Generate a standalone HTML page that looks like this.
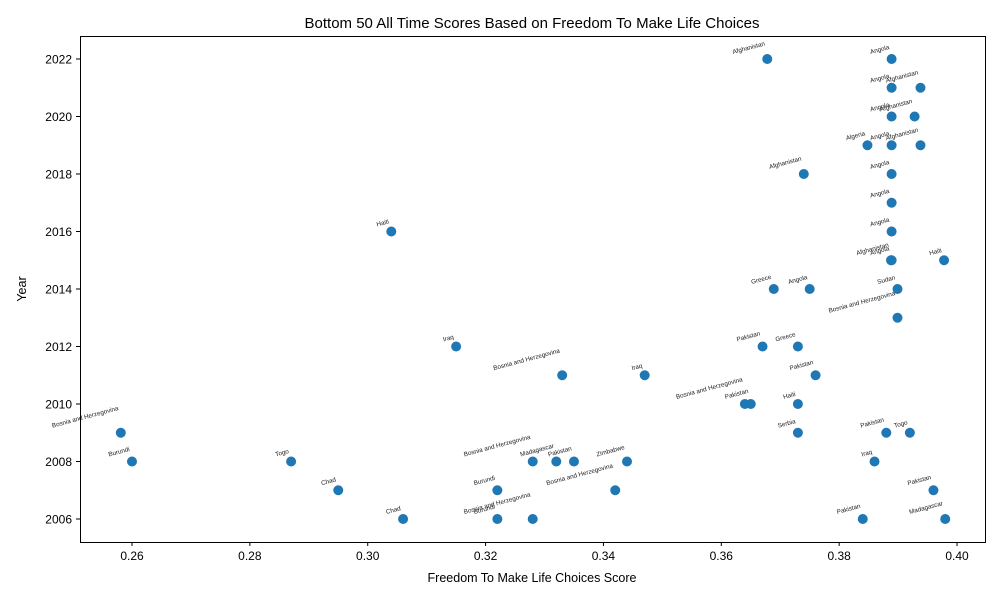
<!DOCTYPE html>
<html><head><meta charset="utf-8"><style>
body{margin:0;background:#fff;font-family:"Liberation Sans","DejaVu Sans",sans-serif}
</style></head><body>
<svg id="chart" width="1000" height="600" xmlns="http://www.w3.org/2000/svg">
<rect width="1000" height="600" fill="#fff"/>
<text x="532" y="28" font-size="15" text-anchor="middle">Bottom 50 All Time Scores Based on Freedom To Make Life Choices</text>
<g id="plot"></g>
<rect x="80.5" y="36.5" width="905" height="506" fill="none" stroke="#000" stroke-width="1"/>
<text x="532" y="582" font-size="12.5" text-anchor="middle">Freedom To Make Life Choices Score</text>
<text x="26" y="289" font-size="12.5" text-anchor="middle" transform="rotate(-90 26 289)">Year</text>
</svg>
<script>
const countries=["Afghanistan","Angola","Angola","Afghanistan","Angola","Afghanistan","Algeria","Angola","Afghanistan","Afghanistan","Angola","Angola","Haiti","Angola","Angola","Afghanistan","Haiti","Greece","Angola","Sudan","Bosnia and Herzegovina","Iraq","Pakistan","Greece","Bosnia and Herzegovina","Iraq","Pakistan","Bosnia and Herzegovina","Pakistan","Haiti","Bosnia and Herzegovina","Serbia","Pakistan","Togo","Burundi","Togo","Bosnia and Herzegovina","Madagascar","Pakistan","Zimbabwe","Iraq","Chad","Burundi","Bosnia and Herzegovina","Pakistan","Chad","Burundi","Bosnia and Herzegovina","Pakistan","Madagascar"];
const years=[2022,2022,2021,2021,2020,2020,2019,2019,2019,2018,2018,2017,2016,2016,2015,2015,2015,2014,2014,2014,2013,2012,2012,2012,2011,2011,2011,2010,2010,2010,2009,2009,2009,2009,2008,2008,2008,2008,2008,2008,2008,2007,2007,2007,2007,2006,2006,2006,2006,2006];
const scores=[0.3678,0.3889,0.3889,0.3938,0.3889,0.3928,0.3848,0.3889,0.3938,0.3740,0.3889,0.3889,0.3040,0.3889,0.3889,0.3888,0.3978,0.3689,0.3750,0.3899,0.3899,0.3150,0.3670,0.3730,0.3330,0.3470,0.3760,0.3640,0.3650,0.3730,0.2581,0.3730,0.3880,0.3920,0.2600,0.2870,0.3280,0.3320,0.3350,0.3440,0.3860,0.2950,0.3220,0.3420,0.3960,0.3060,0.3220,0.3280,0.3840,0.3980];
const xTicks=[0.26,0.28,0.30,0.32,0.34,0.36,0.38,0.40];
const yTicks=[2006,2008,2010,2012,2014,2016,2018,2020,2022];
const xs=v=>132+(v-0.26)*5893;
const ys=v=>519-(v-2006)*28.75;
const NS="http://www.w3.org/2000/svg";
const g=document.getElementById('plot');
function mk(t,a){const e=document.createElementNS(NS,t);for(const k in a)e.setAttribute(k,a[k]);return e;}
xTicks.forEach(t=>{const x=xs(t);
 const l=mk('line',{x1:x,x2:x,y1:542,y2:546,stroke:'#000'});
 
 g.appendChild(l);
 const tx=mk('text',{x:x,y:560,'font-size':12,'text-anchor':'middle'});tx.textContent=t.toFixed(2);
 
 g.appendChild(tx);});
yTicks.forEach(t=>{const y=ys(t);
 const l=mk('line',{x1:76,x2:80,y1:y,y2:y,stroke:'#000'});
 
 g.appendChild(l);
 const tx=mk('text',{x:72,y:y+4.5,'font-size':12,'text-anchor':'end'});tx.textContent=t;
 
 g.appendChild(tx);});
const ang=15,sn=Math.sin(ang*Math.PI/180),cs=Math.cos(ang*Math.PI/180);
scores.forEach((s,i)=>{const x=xs(s),y=ys(years[i]);
 const c=mk('circle',{cx:x,cy:y,r:5,fill:'#1f77b4'});
 
 g.appendChild(c);
 const tx=mk('text',{x:0,y:0,'font-size':6.3,'text-anchor':'end',fill:'#222'});
 tx.textContent=countries[i];
 
 g.appendChild(tx);
 const w=tx.getComputedTextLength();
 const ex=x-2, ey=y-5-w*sn;
 tx.setAttribute('x',ex);tx.setAttribute('y',ey);
 tx.setAttribute('transform',`rotate(-${ang} ${ex} ${ey})`);});
</script>
</body></html>
